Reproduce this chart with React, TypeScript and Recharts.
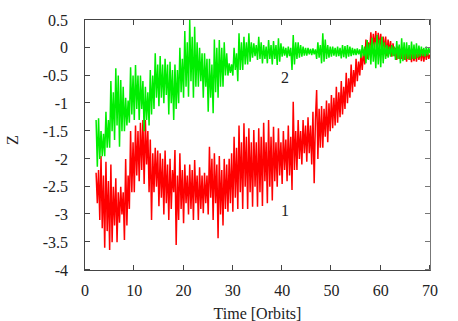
import { LineChart, Line, XAxis, YAxis, ReferenceDot } from "recharts";

const WIDTH = 458;
const HEIGHT = 321;

// plot box inside the chart (px): margins + axis sizes below
const PLOT = { left: 85, top: 20, width: 345, height: 250 };

// samples every quarter orbit, from t = 2.25 to t = 70
const T_START = 2.25;
const T_STEP = 0.25;

// curve 1 (red)
const red: number[] = [
  -2.25, -2.8, -2.2,
  -3.1, -1.95, -3.25, -2.3,
  -3.6, -2.05, -3.3, -2.4,
  -3.64, -2.1, -3.5, -2.5,
  -3.2, -2.35, -3.5, -2.6,
  -3.15, -2.5, -3.0, -2.6,
  -3.46, -2.0, -3.2, -2.3,
  -2.9, -1.5, -2.6, -1.7,
  -2.6, -1.4, -2.3, -1.5,
  -2.4, -1.35, -2.2, -1.3,
  -2.45, -1.3, -2.1, -1.5,
  -2.6, -1.65, -3.1, -1.9,
  -2.6, -1.8, -2.5, -1.85,
  -2.85, -1.9, -2.7, -2.0,
  -3.0, -1.85, -2.8, -2.1,
  -3.1, -2.0, -2.9, -2.2,
  -2.6, -1.84, -3.55, -2.3,
  -3.1, -1.9, -2.9, -2.2,
  -3.16, -2.1, -2.8, -2.3,
  -3.0, -2.1, -2.9, -2.2,
  -3.1, -2.02, -2.8, -2.3,
  -3.1, -2.15, -2.9, -2.3,
  -2.98, -2.25, -2.8, -2.3,
  -3.0, -1.78, -2.7, -2.0,
  -3.1, -1.9, -2.8, -2.1,
  -3.43, -1.95, -3.0, -2.2,
  -3.2, -2.0, -2.9, -2.1,
  -2.95, -2.0, -2.8, -1.9,
  -2.95, -1.6, -2.7, -1.8,
  -2.9, -1.4, -2.6, -1.7,
  -2.9, -1.36, -2.5, -1.6,
  -2.9, -1.45, -2.6, -1.7,
  -2.86, -1.48, -2.5, -1.7,
  -2.86, -1.45, -2.6, -1.6,
  -2.85, -1.35, -2.4, -1.7,
  -2.8, -1.3, -2.5, -1.6,
  -2.75, -1.42, -2.4, -1.7,
  -2.5, -1.45, -2.3, -1.7,
  -2.45, -1.5, -2.2, -1.65,
  -2.4, -1.4, -2.3, -1.6,
  -2.56, -0.97, -2.2, -1.5,
  -2.2, -1.3, -2.0, -1.5,
  -2.1, -1.3, -1.9, -1.4,
  -2.05, -1.25, -1.9, -1.4,
  -2.1, -1.15, -2.44, -1.3,
  -0.76, -2.0, -1.1, -1.8,
  -1.05, -1.8, -1.1, -1.6,
  -0.95, -1.7, -1.0, -1.5,
  -0.85, -1.45, -0.9, -1.4,
  -0.7, -1.35, -0.8, -1.25,
  -0.6, -1.2, -0.7, -1.1,
  -0.45, -1.0, -0.55, -0.9,
  -0.3, -0.8, -0.4, -0.7,
  -0.2, -0.6, -0.25, -0.5,
  -0.1, -0.4, -0.05, -0.3,
  0.15, -0.2, 0.1, -0.1,
  0.28, -0.05, 0.25, 0.0,
  0.3, -0.03, 0.27, 0.0,
  0.25, -0.08, 0.2, -0.05,
  0.2, -0.15, 0.15, -0.1,
  0.12, -0.16, 0.08, -0.15,
  0.0, -0.22, 0.02, -0.2,
  -0.02, -0.2, 0.0, -0.22,
  -0.03, -0.25, -0.02, -0.22,
  -0.05, -0.26, -0.03, -0.24,
  -0.04, -0.25, -0.05, -0.22,
  -0.05, -0.24, -0.03, -0.25,
  -0.04, -0.22, -0.05, -0.2,
  -0.12,
];

// curve 2 (green)
const green: number[] = [
  -1.3, -2.14, -1.27,
  -2.0, -1.5, -1.95, -1.55,
  -1.95, -1.15, -1.8, -1.3,
  -1.8, -0.6, -1.5, -0.8,
  -1.66, -0.37, -1.4, -0.5,
  -1.78, -0.58, -1.5, -0.7,
  -1.5, -0.9, -1.4, -0.95,
  -1.35, -0.35, -1.2, -0.5,
  -1.3, -0.31, -1.1, -0.5,
  -1.3, -0.5, -1.1, -0.6,
  -1.5, -0.7, -1.3, -0.8,
  -1.4, -0.4, -1.2, -0.5,
  -1.1, -0.1, -0.9, -0.3,
  -1.05, -0.15, -0.9, -0.3,
  -1.0, -0.2, -0.85, -0.3,
  -1.2, -0.25, -1.0, -0.4,
  -1.3, -0.3, -1.1, -0.4,
  -1.0, 0.0, -0.8, -0.2,
  -0.9, 0.3, -0.7, 0.1,
  -0.88, 0.5, -0.6, 0.2,
  -0.9, 0.38, -0.7, 0.1,
  -0.7, 0.0, -0.6, -0.1,
  -0.9, -0.1, -0.7, -0.2,
  -1.15, -0.2, -0.9, -0.3,
  -1.18, 0.15, -0.8, 0.0,
  -0.9, 0.14, -0.7, 0.0,
  -0.7, 0.1, -0.5, -0.1,
  -0.5, -0.28, -0.45, -0.3,
  -0.5, 0.0, -0.4, -0.1,
  -0.6, 0.26, -0.4, 0.1,
  -0.4, 0.2, -0.3, 0.1,
  -0.3, 0.26, -0.25, 0.1,
  -0.18, 0.08, -0.15, 0.05,
  -0.22, 0.2, -0.2, 0.1,
  -0.28, 0.05, -0.2, 0.02,
  -0.28, 0.14, -0.2, 0.05,
  -0.3, 0.12, -0.2, 0.05,
  -0.31, 0.17, -0.25, 0.08,
  -0.16, 0.02, -0.14, 0.0,
  -0.18, 0.02, -0.15, 0.0,
  -0.4, 0.23, -0.3, 0.1,
  -0.2, 0.1, -0.18, 0.05,
  -0.16, 0.02, -0.14, 0.0,
  -0.14, 0.0, -0.12, -0.02,
  -0.13, -0.01, -0.12, -0.03,
  -0.2, 0.1, -0.18, 0.05,
  -0.28, 0.26, -0.25, 0.15,
  -0.2, 0.05, -0.18, 0.02,
  -0.16, 0.02, -0.14, 0.0,
  -0.16, 0.02, -0.15, 0.0,
  -0.19, 0.05, -0.17, 0.03,
  -0.19, 0.05, -0.16, 0.02,
  -0.15, 0.0, -0.13, -0.02,
  -0.13, -0.01, -0.12, -0.03,
  -0.18, 0.05, -0.15, 0.02,
  -0.28, 0.14, -0.22, 0.08,
  -0.3, 0.18, -0.25, 0.1,
  -0.37, 0.23, -0.3, 0.15,
  -0.35, 0.2, -0.28, 0.1,
  -0.2, 0.05, -0.18, 0.02,
  -0.16, 0.05, -0.15, 0.02,
  -0.22, 0.12, -0.2, 0.06,
  -0.28, 0.17, -0.24, 0.1,
  -0.22, 0.1, -0.2, 0.05,
  -0.22, 0.11, -0.2, 0.06,
  -0.2, 0.08, -0.18, 0.04,
  -0.16, 0.02, -0.15, 0.0,
  -0.16, 0.02, -0.14, 0.0,
  -0.1,
];

const xTicks = [0, 10, 20, 30, 40, 50, 60, 70];
const yTicks = [-4, -3.5, -3, -2.5, -2, -1.5, -1, -0.5, 0, 0.5];
const X_DOMAIN: [number, number] = [0, 70];
const Y_DOMAIN: [number, number] = [-4, 0.5];

// curve labels, placed in data coordinates
const curveLabels = [
  { text: "1", t: 40.6, z: -2.92 },
  { text: "2", t: 40.6, z: -0.53 },
];

const data = red.map((r, i) => ({
  t: T_START + i * T_STEP,
  red: r,
  green: green[i],
}));

const FONT = "'Liberation Serif', 'Times New Roman', serif";
const AXIS = "#444";
const textStyle = { fontSize: 16, fill: "#222", fontFamily: FONT };
const TICK_PX = 5;

// tick offsets inside the frame, for the gnuplot-style border overlay
const xFrac = (t: number) => (t - X_DOMAIN[0]) / (X_DOMAIN[1] - X_DOMAIN[0]);
const yFrac = (z: number) => (Y_DOMAIN[1] - z) / (Y_DOMAIN[1] - Y_DOMAIN[0]);

function Frame() {
  const marks: React.ReactNode[] = [];
  xTicks.forEach((t) => {
    const left = Math.round(xFrac(t) * PLOT.width) - 1;
    marks.push(
      <div key={`b${t}`} style={{ position: "absolute", left, bottom: 0, width: 1, height: TICK_PX, background: AXIS }} />,
      <div key={`t${t}`} style={{ position: "absolute", left, top: 0, width: 1, height: TICK_PX, background: AXIS }} />
    );
  });
  yTicks.forEach((z) => {
    const top = Math.round(yFrac(z) * PLOT.height) - 1;
    marks.push(
      <div key={`l${z}`} style={{ position: "absolute", top, left: 0, height: 1, width: TICK_PX, background: AXIS }} />,
      <div key={`r${z}`} style={{ position: "absolute", top, right: 0, height: 1, width: TICK_PX, background: "#777" }} />
    );
  });
  return (
    <div
      style={{
        position: "absolute",
        left: PLOT.left - 1,
        top: PLOT.top - 1,
        width: PLOT.width + 2,
        height: PLOT.height + 2,
        boxSizing: "border-box",
        borderTop: `1.5px solid ${AXIS}`,
        borderLeft: `1.5px solid ${AXIS}`,
        borderBottom: `1.5px solid ${AXIS}`,
        borderRight: "1.5px solid #777",
        pointerEvents: "none",
      }}
    >
      {marks}
    </div>
  );
}

export default function App() {
  return (
    <div
      style={{
        position: "absolute",
        left: 0,
        top: 0,
        width: WIDTH,
        height: HEIGHT,
        background: "#fff",
      }}
    >
      <LineChart
        width={WIDTH}
        height={HEIGHT}
        data={data}
        margin={{ top: PLOT.top, right: WIDTH - PLOT.left - PLOT.width, bottom: 0, left: 0 }}
      >
        <XAxis
          dataKey="t"
          type="number"
          domain={X_DOMAIN}
          ticks={xTicks}
          height={HEIGHT - PLOT.top - PLOT.height}
          axisLine={false}
          tickLine={false}
          tickMargin={9}
          tick={textStyle}
          label={{
            value: "Time [Orbits]",
            position: "insideBottom",
            offset: 2,
            style: textStyle,
          }}
        />
        <YAxis
          type="number"
          domain={Y_DOMAIN}
          ticks={yTicks}
          width={PLOT.left}
          axisLine={false}
          tickLine={false}
          tickMargin={11}
          tick={textStyle}
          label={{
            value: "Z",
            angle: -90,
            position: "insideLeft",
            offset: 12,
            style: textStyle,
          }}
        />
        <Line
          dataKey="red"
          stroke="#ff0000"
          strokeWidth={1.5}
          dot={false}
          isAnimationActive={false}
        />
        <Line
          dataKey="green"
          stroke="#00ee00"
          strokeWidth={1.5}
          dot={false}
          isAnimationActive={false}
        />
        {curveLabels.map((c) => (
          <ReferenceDot
            key={c.text}
            x={c.t}
            y={c.z}
            r={0}
            fill="none"
            stroke="none"
            label={{ value: c.text, position: "center", style: textStyle }}
          />
        ))}
      </LineChart>
      <Frame />
    </div>
  );
}
